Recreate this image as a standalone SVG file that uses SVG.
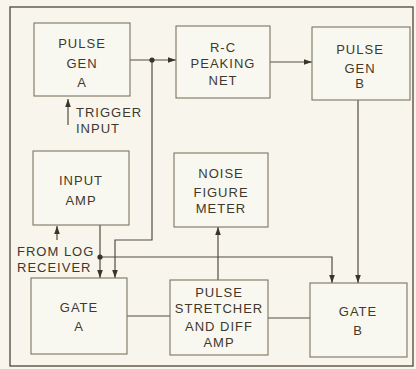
<svg xmlns="http://www.w3.org/2000/svg" width="416" height="369" viewBox="0 0 416 369">
<defs>
<style>
.bg{fill:#f8f6ec}
.box{fill:#f9f8f0;stroke:#7d7462;stroke-width:1.1}
.ln{fill:none;stroke:#554c3c;stroke-width:1.2}
.t{font-family:"Liberation Sans",Arial,sans-serif;font-size:13px;letter-spacing:1px;fill:#3f382c;text-anchor:middle}
.tl{text-anchor:start}
.dot{fill:#3a3328}
</style>
<marker id="ah" viewBox="0 0 10 10" refX="10" refY="5" markerWidth="8" markerHeight="8" markerUnits="userSpaceOnUse" orient="auto">
<path d="M0,1.5 L10,5 L0,8.5 Z" fill="#3a3328"/>
</marker>
</defs>
<rect class="bg" x="0" y="0" width="416" height="369"/>
<rect x="10" y="7" width="403" height="359" fill="none" stroke="#4f4636" stroke-width="1.3"/>

<g id="connectors">
<path class="ln" d="M130,60 H176" marker-end="url(#ah)"/>
<path class="ln" d="M152,60 V240 H115 V278" marker-end="url(#ah)"/>
<path class="ln" d="M270,62 H312" marker-end="url(#ah)"/>
<path class="ln" d="M358,100 V283" marker-end="url(#ah)"/>
<path class="ln" d="M100,225 V278" marker-end="url(#ah)"/>
<path class="ln" d="M100,257 H332 V283" marker-end="url(#ah)"/>
<path class="ln" d="M68,125 V99" marker-end="url(#ah)"/>
<path class="ln" d="M57,240 V226" marker-end="url(#ah)"/>
<path class="ln" d="M218,280 V227" marker-end="url(#ah)"/>
<path class="ln" d="M127,316 H170"/>
<path class="ln" d="M268,318 H310"/>
<circle class="dot" cx="152" cy="60" r="2.6"/>
<circle class="dot" cx="100" cy="257" r="2.6"/>
</g>

<g id="pulse-gen-a">
<rect class="box" x="34" y="23" width="96" height="73"/>
<text class="t" x="82" y="48">PULSE</text>
<text class="t" x="82" y="68">GEN</text>
<text class="t" x="82" y="87">A</text>
</g>
<g id="trigger-input">
<text class="t tl" x="76" y="117">TRIGGER</text>
<text class="t tl" x="76" y="133">INPUT</text>
</g>
<g id="rc-peaking-net">
<rect class="box" x="176" y="26" width="94" height="72"/>
<text class="t" x="223" y="52">R-C</text>
<text class="t" x="223" y="68">PEAKING</text>
<text class="t" x="223" y="85">NET</text>
</g>
<g id="pulse-gen-b">
<rect class="box" x="312" y="27" width="98" height="73"/>
<text class="t" x="360" y="54">PULSE</text>
<text class="t" x="360" y="73">GEN</text>
<text class="t" x="360" y="88">B</text>
</g>
<g id="input-amp">
<rect class="box" x="33" y="151" width="96" height="74"/>
<text class="t" x="81" y="185">INPUT</text>
<text class="t" x="81" y="205">AMP</text>
</g>
<g id="noise-figure-meter">
<rect class="box" x="174" y="153" width="94" height="74"/>
<text class="t" x="221" y="178">NOISE</text>
<text class="t" x="221" y="197">FIGURE</text>
<text class="t" x="221" y="213">METER</text>
</g>
<g id="from-log-receiver">
<text class="t tl" x="17" y="256">FROM LOG</text>
<text class="t tl" x="17" y="272">RECEIVER</text>
</g>
<g id="gate-a">
<rect class="box" x="31" y="278" width="96" height="76"/>
<text class="t" x="79" y="312">GATE</text>
<text class="t" x="79" y="331">A</text>
</g>
<g id="pulse-stretcher">
<rect class="box" x="170" y="280" width="98" height="75"/>
<text class="t" x="219" y="297">PULSE</text>
<text class="t" x="219" y="313">STRETCHER</text>
<text class="t" x="219" y="331">AND DIFF</text>
<text class="t" x="219" y="347">AMP</text>
</g>
<g id="gate-b">
<rect class="box" x="310" y="283" width="97" height="74"/>
<text class="t" x="358" y="316">GATE</text>
<text class="t" x="358" y="335">B</text>
</g>
</svg>
